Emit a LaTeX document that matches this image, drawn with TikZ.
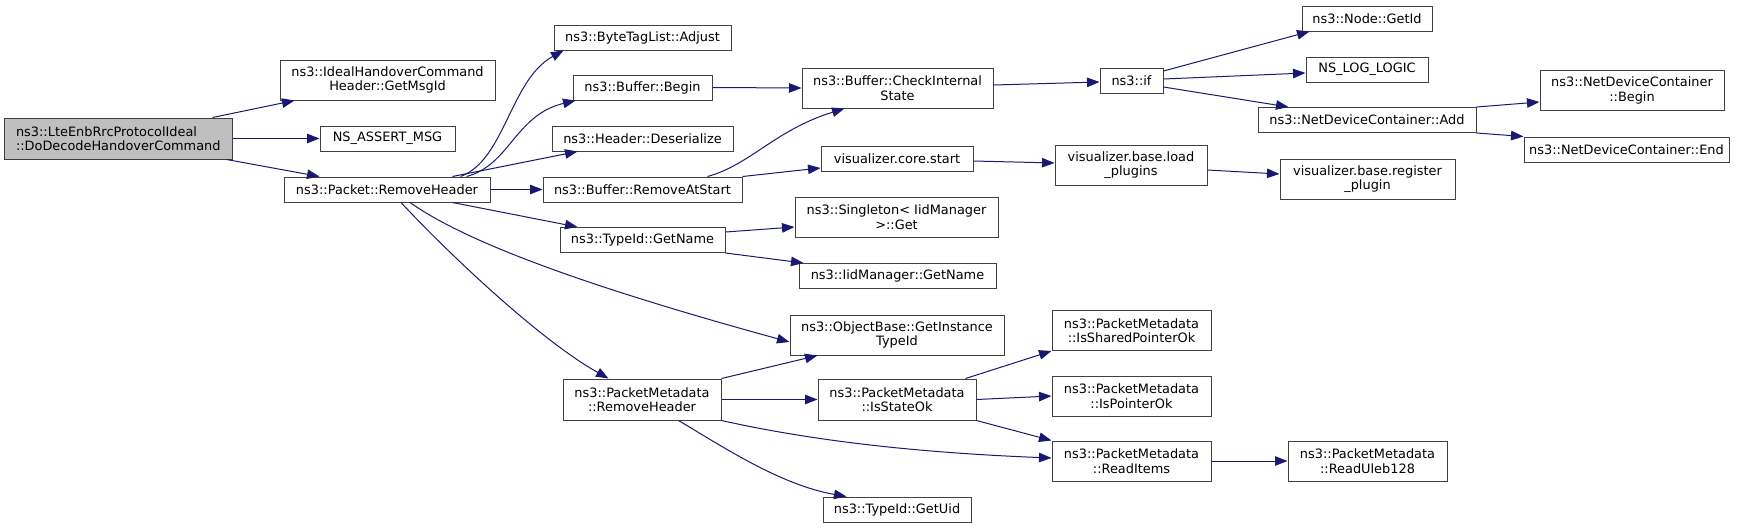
\documentclass[tikz,border=0pt]{standalone}
\usepackage{fontspec}
\setmainfont{DejaVu Sans}
\usetikzlibrary{arrows.meta}
\definecolor{edgec}{HTML}{191970}
\definecolor{boxc}{HTML}{404040}
\definecolor{rootc}{HTML}{BFBFBF}
\begin{document}
\begin{tikzpicture}[x=1pt,y=-1pt,
 box/.style={draw=boxc, line width=1pt, fill=white, inner sep=0pt, align=center, font=\fontsize{12.9}{14.5}\selectfont},
 e/.style={draw=edgec, line width=1pt, -{Triangle[length=12.5pt,width=9.5pt]}}]
\useasboundingbox (0,0) rectangle (1745,528);
\fill[white] (0,0) rectangle (1745,528);
% column 1
\node[box, fill=rootc, align=left, minimum width=227.4pt, minimum height=41pt] (root) at (118.3,138.5) {ns3::LteEnbRrcProtocolIdeal\\::DoDecodeHandoverCommand};
% column 2
\node[box, minimum width=215pt, minimum height=40pt] (ideal) at (387.5,80) {ns3::IdealHandoverCommand\\Header::GetMsgId};
\node[box, minimum width=135pt, minimum height=25pt] (nsassert) at (387.5,138.5) {NS\_ASSERT\_MSG};
\node[box, minimum width=206pt, minimum height=25pt] (prh) at (387,189.5) {ns3::Packet::RemoveHeader};
% column 3
\node[box, minimum width=177pt, minimum height=25pt] (bta) at (642.5,37.5) {ns3::ByteTagList::Adjust};
\node[box, minimum width=139pt, minimum height=25pt] (bbegin) at (642.5,87.5) {ns3::Buffer::Begin};
\node[box, minimum width=181pt, minimum height=25pt] (hdes) at (642.5,138.5) {ns3::Header::Deserialize};
\node[box, minimum width=199pt, minimum height=25pt] (brem) at (642.5,189.5) {ns3::Buffer::RemoveAtStart};
\node[box, minimum width=165pt, minimum height=25pt] (tgn) at (642.5,240) {ns3::TypeId::GetName};
\node[box, minimum width=158pt, minimum height=41pt] (pmrh) at (642,399.5) {ns3::PacketMetadata\\::RemoveHeader};
% column 4
\node[box, minimum width=191pt, minimum height=40pt] (cis) at (897.5,88) {ns3::Buffer::CheckInternal\\State};
\node[box, minimum width=152pt, minimum height=25pt] (vcs) at (897,158.5) {visualizer.core.start};
\node[box, minimum width=203pt, minimum height=40pt] (single) at (896.5,217) {ns3::Singleton< IidManager\\ >::Get};
\node[box, minimum width=197pt, minimum height=25pt] (iidgn) at (897.5,276) {ns3::IidManager::GetName};
\node[box, minimum width=214pt, minimum height=40pt] (obgit) at (897,335) {ns3::ObjectBase::GetInstance\\TypeId};
\node[box, minimum width=158pt, minimum height=41pt] (isok) at (897,399.5) {ns3::PacketMetadata\\::IsStateOk};
\node[box, minimum width=148pt, minimum height=25pt] (getuid) at (897,509.5) {ns3::TypeId::GetUid};
% column 5
\node[box, minimum width=63pt, minimum height=25pt] (ifn) at (1131.5,81) {ns3::if};
\node[box, minimum width=152pt, minimum height=40pt] (loadp) at (1131,165) {visualizer.base.load\\\_plugins};
\node[box, minimum width=159pt, minimum height=40pt] (sharedok) at (1131.5,330.5) {ns3::PacketMetadata\\::IsSharedPointerOk};
\node[box, minimum width=159pt, minimum height=40pt] (ptrok) at (1131.5,396) {ns3::PacketMetadata\\::IsPointerOk};
\node[box, minimum width=159pt, minimum height=40pt] (readitems) at (1131.5,461) {ns3::PacketMetadata\\::ReadItems};
% column 6
\node[box, minimum width=130pt, minimum height=25pt] (nodeid) at (1367,18.5) {ns3::Node::GetId};
\node[box, minimum width=122pt, minimum height=25pt] (nslog) at (1367,69.5) {NS\_LOG\_LOGIC};
\node[box, minimum width=218pt, minimum height=25pt] (ndcadd) at (1367,120) {ns3::NetDeviceContainer::Add};
\node[box, minimum width=175pt, minimum height=40pt] (regp) at (1367.5,179) {visualizer.base.register\\\_plugin};
\node[box, minimum width=159pt, minimum height=40pt] (uleb) at (1367.5,461) {ns3::PacketMetadata\\::ReadUleb128};
% column 7
\node[box, minimum width=184pt, minimum height=40pt] (ndcbegin) at (1632,90.5) {ns3::NetDeviceContainer\\::Begin};
\node[box, minimum width=205pt, minimum height=25pt] (ndcend) at (1626.5,149.5) {ns3::NetDeviceContainer::End};
% edges
\draw[e] ([xshift=-20pt]root.north east) -- ([xshift=15pt]ideal.south west);
\draw[e] (root.east) -- (nsassert.west);
\draw[e] ([xshift=-6pt]root.south east) -- ([xshift=36pt]prh.north west);
\draw[e] ([xshift=-30pt]prh.north east) .. controls (505,160) and (510,80) .. ([xshift=10pt]bta.south west);
\draw[e] ([xshift=-24pt]prh.north east) .. controls (510,165) and (515,115) .. ([xshift=3pt]bbegin.south west);
\draw[e] ([xshift=-38pt]prh.north east) -- ([xshift=26pt]hdes.south west);
\draw[e] (prh.east) -- (brem.west);
\draw[e] ([xshift=-38pt]prh.south east) -- ([xshift=18pt]tgn.north west);
\draw[e] ([xshift=23pt]prh.south) .. controls (470,245) and (600,290) .. ([yshift=-7pt]obgit.west);
\draw[e] ([xshift=14pt]prh.south) .. controls (450,255) and (540,340) .. ([xshift=46pt]pmrh.north west);
\draw[e] (bbegin.east) -- (cis.west);
\draw[e] ([xshift=-35pt]brem.north east) .. controls (750,165) and (775,130) .. ([xshift=43pt]cis.south west);
\draw[e] (brem.north east) -- ([yshift=-9.5pt]vcs.west);
\draw[e] ([yshift=3pt]cis.east) -- ([yshift=-1pt]ifn.west);
\draw[e] ([yshift=-2.5pt]vcs.east) -- ([yshift=2pt]loadp.west);
\draw[e] ([yshift=-5pt]loadp.east) -- ([yshift=5pt]regp.west);
\draw[e] ([yshift=10pt]ifn.east) -- ([xshift=8pt]nodeid.south west);
\draw[e] ([yshift=2pt]ifn.east) -- ([yshift=-3.5pt]nslog.west);
\draw[e] ([yshift=-6pt]ifn.east) -- ([xshift=31pt]ndcadd.north west);
\draw[e] (ndcadd.north east) -- ([yshift=-11.5pt]ndcbegin.west);
\draw[e] (ndcadd.south east) -- (ndcend.north west);
\draw[e] ([yshift=8pt]tgn.east) -- ([yshift=-10pt]single.west);
\draw[e] (tgn.south east) -- ([xshift=5pt]iidgn.north west);
\draw[e] (pmrh.north east) -- ([xshift=28pt]obgit.south west);
\draw[e] (pmrh.east) -- (isok.west);
\draw[e] (pmrh.south east) .. controls (800,438) and (900,452) .. ([yshift=3pt]readitems.west);
\draw[e] ([xshift=-43pt]pmrh.south east) .. controls (720,445) and (780,485) .. ([xshift=24pt]getuid.north west);
\draw[e] ([xshift=-11pt]isok.north east) -- (sharedok.south west);
\draw[e] (isok.east) -- (ptrok.west);
\draw[e] (isok.south east) -- (readitems.north west);
\draw[e] (readitems.east) -- (uleb.west);
\end{tikzpicture}
\end{document}
